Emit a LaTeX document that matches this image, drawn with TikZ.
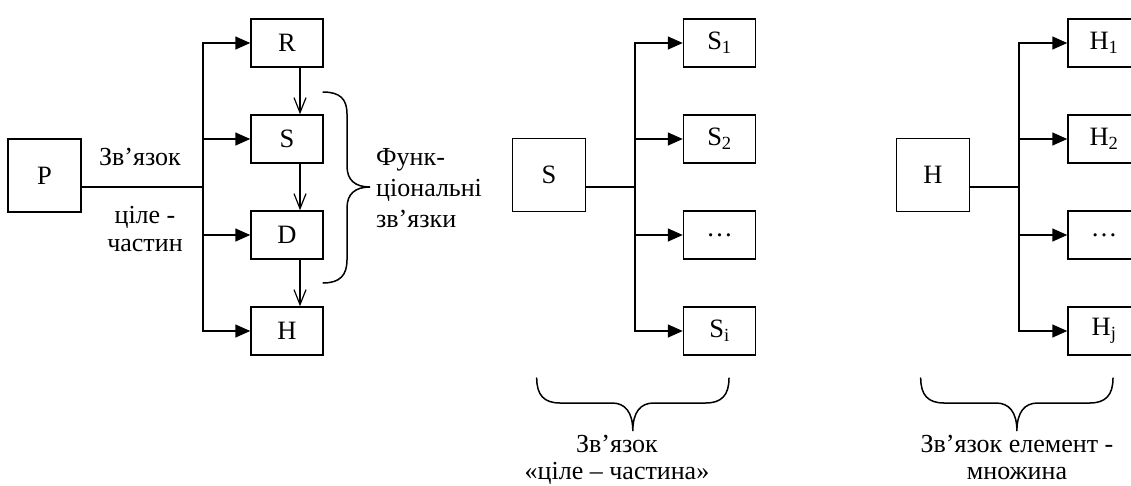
\documentclass[tikz,border=0pt]{standalone}
\usepackage{fontspec}
\setmainfont{Liberation Serif}
\usetikzlibrary{arrows.meta,calc}
\begin{document}
\begin{tikzpicture}[x=1pt,y=-1pt,
  box/.style={draw,line width=1.5pt,minimum width=72pt,minimum height=48pt,
    inner sep=0pt,font=\fontsize{26.5}{30}\selectfont},
  bigbox/.style={box,minimum width=73pt,minimum height=73pt},
  wire/.style={line width=1.5pt},
  branch/.style={wire,-{Triangle[length=15pt,width=13pt]}},
  flow/.style={line width=1.2pt,-{Straight Barb[length=15pt,width=12pt,line width=1.2pt]}},
  bracket/.style={line width=1.5pt,line cap=round},
  lbl/.style={inner sep=0pt,font=\fontsize{26}{30}\selectfont}]
\useasboundingbox (0,0) rectangle (1131,485);
\clip (0,0) rectangle (1131,485);

% ---- whole / parts with functional links
\node[bigbox] (P) at (44.5,175.5) {P};
\node[box] (R) at (287,43) {R};
\node[box] (S) at (287,139) {S};
\node[box] (D) at (287,235) {D};
\node[box] (H) at (287,331) {H};
\coordinate (ja) at (203,187);
\draw[wire] (ja -| P.east) -- (ja);
\foreach \n in {R,S,D,H} \draw[branch] (ja) |- (\n.west);
\draw[flow] ([xshift=13pt]R.south) -- ([xshift=13pt]S.north);
\draw[flow] ([xshift=13pt]S.south) -- ([xshift=13pt]D.north);
\draw[flow] ([xshift=13pt]D.south) -- ([xshift=13pt]H.north);
\node[lbl] (la) at (140,157) {Зв’язок};
\node[lbl,align=center,font=\fontsize{26}{28}\selectfont] (lb) at (145,229) {ціле -\\частин};
% curly bracket around the functional links
\draw[bracket] (323,92) .. controls (340,92) and (347,99) .. (347,114)
  -- (347,166) .. controls (347,180) and (355,187) .. (370,187)
  .. controls (355,187) and (347,194) .. (347,208)
  -- (347,260) .. controls (347,275) and (340,283) .. (323,283);
\node[lbl,anchor=west,align=left,font=\fontsize{26}{31}\selectfont] (lc) at (376,188)
  {Функ-\\ціональні\\зв’язки};

% ---- whole - part
\node[bigbox] (S0) at (549,175) {S};
\node[box] (S1) at (719.5,43) {S\textsubscript{1}};
\node[box] (S2) at (719.5,139) {S\textsubscript{2}};
\node[box] (S3) at (719.5,235) {…};
\node[box] (S4) at (719.5,331) {S\textsubscript{i}};
\coordinate (jb) at (635,187);
\draw[wire] (jb -| S0.east) -- (jb);
\foreach \n in {S1,S2,S3,S4} \draw[branch] (jb) |- (\n.west);
\draw[bracket] (536.7,378) .. controls (536.7,395) and (544,403) .. (560,403)
  -- (612,403) .. controls (625,403) and (632.8,412) .. (632.8,431)
  .. controls (632.8,412) and (640.6,403) .. (653.6,403)
  -- (705.7,403) .. controls (721.7,403) and (729,395) .. (729,378);
\node[lbl,align=center,font=\fontsize{26}{27}\selectfont] (ld) at (617,460)
  {Зв’язок\\«ціле – частина»};

% ---- element - set
\node[bigbox] (H0) at (933,175) {H};
\node[box] (H1) at (1104,43) {H\textsubscript{1}};
\node[box] (H2) at (1104,139) {H\textsubscript{2}};
\node[box] (H3) at (1104,235) {…};
\node[box] (H4) at (1104,331) {H\textsubscript{j}};
\coordinate (jc) at (1019,187);
\draw[wire] (jc -| H0.east) -- (jc);
\foreach \n in {H1,H2,H3,H4} \draw[branch] (jc) |- (\n.west);
\draw[bracket] (920.7,378) .. controls (920.7,395) and (928,403) .. (944,403)
  -- (996,403) .. controls (1009,403) and (1016.9,412) .. (1016.9,431)
  .. controls (1016.9,412) and (1024.7,403) .. (1037.7,403)
  -- (1089.7,403) .. controls (1105.7,403) and (1113,395) .. (1113,378);
\node[lbl,align=center,font=\fontsize{26}{27}\selectfont] (le) at (1017,457)
  {Зв’язок елемент -\\множина};
\end{tikzpicture}
\end{document}
